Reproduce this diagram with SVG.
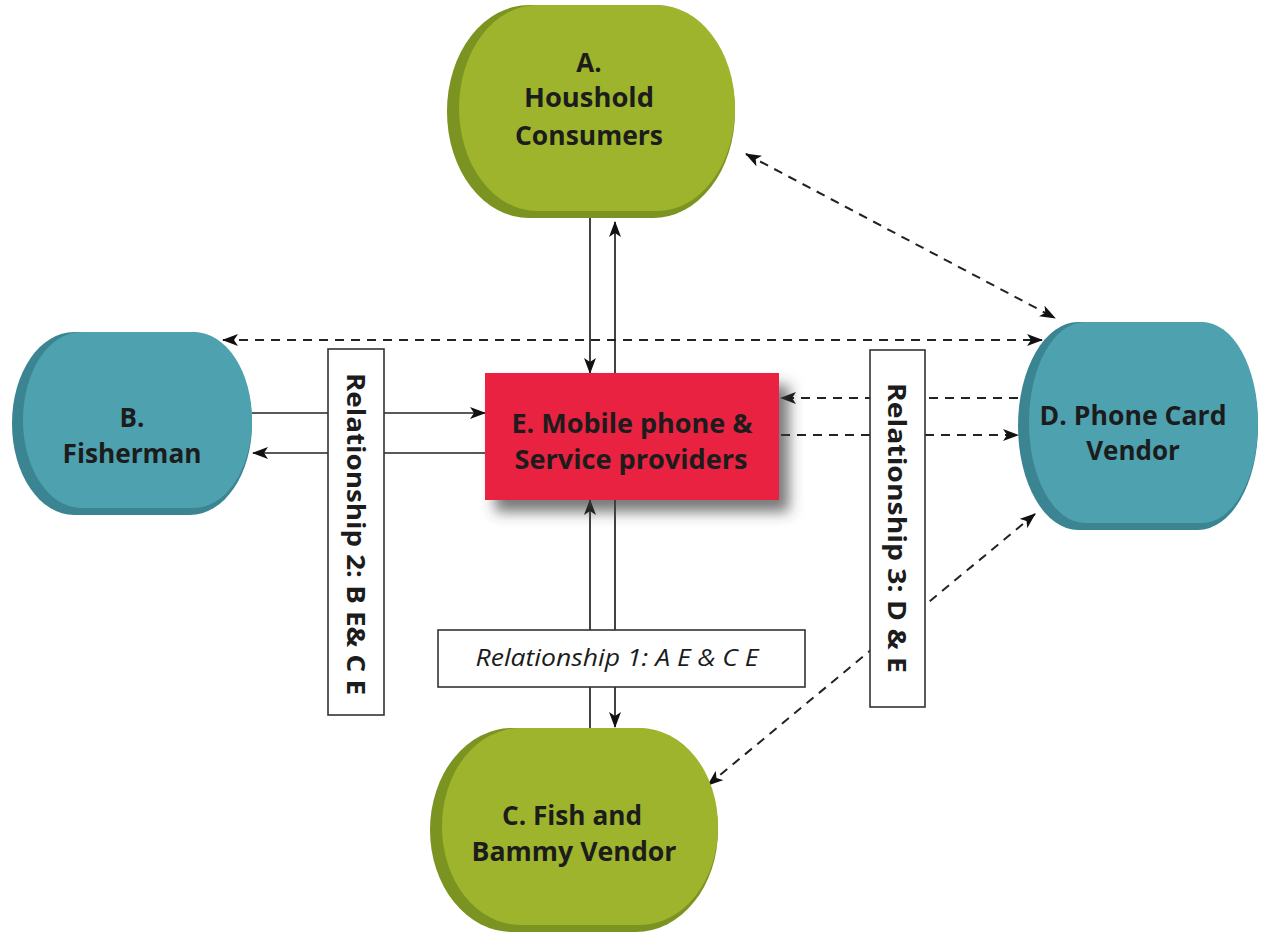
<svg xmlns="http://www.w3.org/2000/svg" width="1265" height="937" viewBox="0 0 1265 937">
  <style>
    .lbl { font-family: "Open Sans", "Noto Sans", "Liberation Sans", sans-serif; font-weight: bold; font-size: 26px; fill: #1c1c1c; text-anchor: middle; }
    .rel { font-family: "Open Sans", "Noto Sans", "Liberation Sans", sans-serif; font-weight: bold; font-size: 25px; fill: #1c1c1c; text-anchor: middle; }
    .reli { font-family: "Open Sans", "Noto Sans", "Liberation Sans", sans-serif; font-style: italic; font-size: 24px; fill: #1c1c1c; text-anchor: middle; }
    .box { fill: #ffffff; stroke: #333333; stroke-width: 1.6; }
    .g-back { fill: #7b9320; }
    .g-face { fill: #9db42c; }
    .t-back { fill: #3b8593; }
    .t-face { fill: #4ea1af; }
    .solid { stroke: #222222; stroke-width: 1.7; fill: none; marker-end: url(#arrow); }
    .dash { stroke: #222222; stroke-width: 2; stroke-dasharray: 9 7; fill: none; marker-end: url(#arrow); }
    .both { marker-start: url(#arrow); }
  </style>
  <defs>
    <marker id="arrow" viewBox="0 0 16 12" refX="15" refY="6" markerWidth="16" markerHeight="12" markerUnits="userSpaceOnUse" orient="auto-start-reverse">
      <path d="M0,0 L16,6 L0,12 L4,6 Z" fill="#111111"/>
    </marker>
    <filter id="shadow" x="-20%" y="-30%" width="150%" height="180%">
      <feDropShadow dx="10" dy="12" stdDeviation="7" flood-color="#404040" flood-opacity="0.7"/>
    </filter>
  </defs>

  <rect width="1265" height="937" fill="#ffffff"/>

  <!-- connectors -->
  <g id="connectors">
    <line class="solid" x1="590" y1="218" x2="590" y2="373"/>
    <line class="solid" x1="615" y1="373" x2="615" y2="222"/>
    <line class="solid" x1="590" y1="729" x2="590" y2="500"/>
    <line class="solid" x1="615" y1="500" x2="615" y2="727"/>
    <line class="solid" x1="252" y1="413" x2="485" y2="413"/>
    <line class="solid" x1="485" y1="453" x2="253" y2="453"/>
    <line class="dash both" x1="223" y1="340" x2="1042" y2="340"/>
    <line class="dash both" x1="746" y1="154" x2="1055" y2="318"/>
    <line class="dash" x1="1018" y1="398" x2="781" y2="398"/>
    <line class="dash" x1="781" y1="435" x2="1018" y2="435"/>
    <line class="dash both" x1="708" y1="785" x2="1035" y2="514"/>
  </g>

  <!-- relationship labels -->
  <g id="rel1">
    <rect class="box" x="438" y="630" width="367" height="57"/>
    <text class="reli" x="617" y="666" textLength="283" lengthAdjust="spacingAndGlyphs">Relationship 1: A E &amp; C E</text>
  </g>
  <g id="rel2">
    <rect class="box" x="328" y="349" width="56" height="366"/>
    <text class="rel" transform="translate(347,534) rotate(90)" textLength="322" lengthAdjust="spacingAndGlyphs">Relationship 2: B E&amp; C E</text>
  </g>
  <g id="rel3">
    <rect class="box" x="870" y="350" width="55" height="357"/>
    <text class="rel" transform="translate(888,528) rotate(90)" textLength="290" lengthAdjust="spacingAndGlyphs">Relationship 3: D &amp; E</text>
  </g>

  <!-- A: household consumers -->
  <g id="nodeA">
    <rect class="g-back" x="447" y="5" width="288" height="213" rx="82" ry="106"/>
    <rect class="g-face" x="459" y="5" width="276" height="206" rx="78" ry="103"/>
    <text class="lbl" x="589" y="72">A.</text>
    <text class="lbl" x="589" y="107" textLength="130" lengthAdjust="spacingAndGlyphs">Houshold</text>
    <text class="lbl" x="589" y="145" textLength="148" lengthAdjust="spacingAndGlyphs">Consumers</text>
  </g>

  <!-- B: fisherman -->
  <g id="nodeB">
    <rect class="t-back" x="12" y="332" width="240" height="183" rx="62" ry="91"/>
    <rect class="t-face" x="23" y="332" width="229" height="176" rx="58" ry="88"/>
    <text class="lbl" x="132" y="427">B.</text>
    <text class="lbl" x="132" y="463" textLength="139" lengthAdjust="spacingAndGlyphs">Fisherman</text>
  </g>

  <!-- C: fish and bammy vendor -->
  <g id="nodeC">
    <rect class="g-back" x="430" y="728" width="288" height="204" rx="82" ry="102"/>
    <rect class="g-face" x="442" y="728" width="276" height="197" rx="78" ry="98"/>
    <text class="lbl" x="572" y="825" textLength="140" lengthAdjust="spacingAndGlyphs">C. Fish and</text>
    <text class="lbl" x="574" y="861" textLength="205" lengthAdjust="spacingAndGlyphs">Bammy Vendor</text>
  </g>

  <!-- D: phone card vendor -->
  <g id="nodeD">
    <rect class="t-back" x="1018" y="322" width="240" height="208" rx="60" ry="104"/>
    <rect class="t-face" x="1029" y="322" width="229" height="201" rx="56" ry="100"/>
    <text class="lbl" x="1133" y="425" textLength="187" lengthAdjust="spacingAndGlyphs">D. Phone Card</text>
    <text class="lbl" x="1133" y="460">Vendor</text>
  </g>

  <!-- E: mobile phone and service providers -->
  <g id="nodeE">
    <rect x="485" y="373" width="294" height="127" fill="#ea2143" filter="url(#shadow)"/>
    <text class="lbl" x="632" y="433" textLength="241" lengthAdjust="spacingAndGlyphs">E. Mobile phone &amp;</text>
    <text class="lbl" x="631" y="469" textLength="233" lengthAdjust="spacingAndGlyphs">Service providers</text>
  </g>
</svg>
